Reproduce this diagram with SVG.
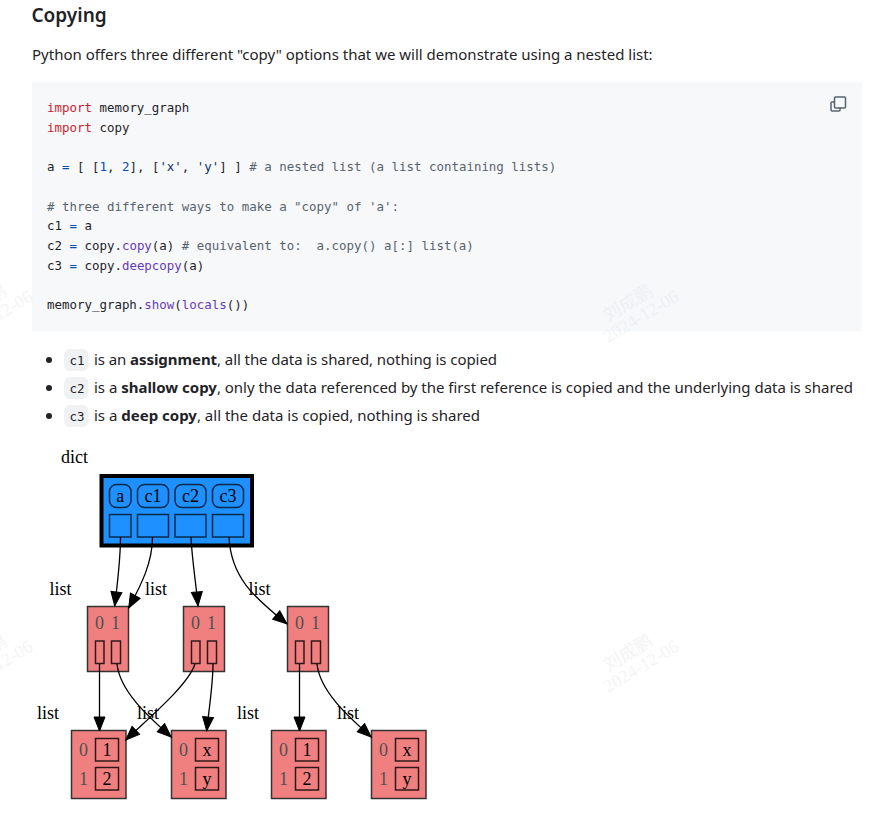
<svg xmlns="http://www.w3.org/2000/svg" width="887" height="837" viewBox="0 0 887 837">
<style>
.h{font:600 19px "Noto Sans",sans-serif;fill:#1f2328}
.p{font:15px "Noto Sans",sans-serif;fill:#1f2328}
.p tspan.b{font-weight:700}
.p tspan.c{font:12.5px "DejaVu Sans Mono",monospace}
.m{font:12.45px "DejaVu Sans Mono",monospace;fill:#1f2328;white-space:pre}
.k{fill:#cf222e}.o{fill:#0550ae}.s{fill:#0a3069}.g{fill:#59636e}.f{fill:#6639ba}
.t{font:18px "Liberation Serif",serif;fill:#000}
.tm{text-anchor:middle}
.i{font:18px "Liberation Serif",serif;fill:#505050;text-anchor:middle}
.w{font:18px "Liberation Serif","Noto Sans CJK SC",serif;fill:#e6e8ea;opacity:.45}
.bl{fill:#1e90ff;stroke:#0a2a48;stroke-width:1.5}
.rd{fill:#f08080;stroke:#333;stroke-width:1.5}
.cell{fill:none;stroke:#301818;stroke-width:1.5}
.e{fill:none;stroke:#000;stroke-width:1.3;marker-end:url(#ah)}
</style>
<defs>
<marker id="ah" markerUnits="userSpaceOnUse" markerWidth="18" markerHeight="14" refX="15" refY="6.5" orient="auto"><path d="M1 1L15 6.5L1 12Z" fill="#000" stroke="#000"/></marker>
<g id="wm"><text class="w" transform="translate(608 322) rotate(-31)">刘成鹏</text><text class="w" transform="translate(608 343) rotate(-31)">2024-12-06</text></g>
</defs>
<rect width="887" height="837" fill="#fff"/>
<g id="page">
<text class="h" x="31.5" y="22">Copying</text>
<text class="p" x="32" y="60">Python offers three different "copy" options that we will demonstrate using a nested list:</text>
<rect x="32" y="82" width="830" height="249" fill="#f6f8fa"/>
<text class="m" x="47" y="111.5"><tspan class="k">import</tspan> memory_graph</text>
<text class="m" x="47" y="131.5"><tspan class="k">import</tspan> copy</text>
<text class="m" x="47" y="170.5">a <tspan class="o">=</tspan> [ [<tspan class="o">1</tspan>, <tspan class="o">2</tspan>], [<tspan class="s">'x'</tspan>, <tspan class="s">'y'</tspan>] ] <tspan class="g"># a nested list (a list containing lists)</tspan></text>
<text class="m g" x="47" y="210.5"># three different ways to make a "copy" of 'a':</text>
<text class="m" x="47" y="229.5">c1 <tspan class="o">=</tspan> a</text>
<text class="m" x="47" y="249.5">c2 <tspan class="o">=</tspan> copy.<tspan class="f">copy</tspan>(a) <tspan class="g"># equivalent to:  a.copy() a[:] list(a)</tspan></text>
<text class="m" x="47" y="269.5">c3 <tspan class="o">=</tspan> copy.<tspan class="f">deepcopy</tspan>(a)</text>
<text class="m" x="47" y="308.5">memory_graph.<tspan class="f">show</tspan>(<tspan class="f">locals</tspan>())</text>
<g fill="#1f2328"><circle cx="49" cy="360" r="3"/><circle cx="49" cy="388" r="3"/><circle cx="49" cy="416" r="3"/></g>
<g fill="#eff1f3"><rect x="64" y="349" width="24.5" height="22" rx="6"/><rect x="64" y="377" width="24.5" height="22" rx="6"/><rect x="64" y="405" width="24.5" height="22" rx="6"/></g>
<text class="p" x="69.5" y="365"><tspan class="c">c1</tspan></text>
<text class="p" x="69.5" y="393"><tspan class="c">c2</tspan></text>
<text class="p" x="69.5" y="421"><tspan class="c">c3</tspan></text>
<text class="p" x="94" y="365" textLength="403">is an <tspan class="b">assignment</tspan>, all the data is shared, nothing is copied</text>
<text class="p" x="94" y="393" textLength="759">is a <tspan class="b">shallow copy</tspan>, only the data referenced by the first reference is copied and the underlying data is shared</text>
<text class="p" x="94" y="421" textLength="386">is a <tspan class="b">deep copy</tspan>, all the data is copied, nothing is shared</text>
<g fill="none" stroke="#59636e" stroke-width="1.5" stroke-linejoin="round"><path d="M834.5 102H832a1 1 0 0 0-1 1V110a1 1 0 0 0 1 1H839a1 1 0 0 0 1-1V107.5"/><rect x="834.5" y="97" width="11" height="11" rx="1"/></g>
</g>
<use href="#wm"/><use href="#wm" y="350"/><use href="#wm" x="-646"/><use href="#wm" x="-646" y="350"/>
<g id="node-dict">
<text class="t" x="61" y="463">dict</text>
<rect x="101.5" y="476" width="150.5" height="69.5" fill="#1e90ff" stroke="#000" stroke-width="4"/>
<rect class="bl" x="109.5" y="484.5" width="21.5" height="23" rx="7"/><rect class="bl" x="137.5" y="484.5" width="31" height="23" rx="7"/><rect class="bl" x="175" y="484.5" width="31" height="23" rx="7"/><rect class="bl" x="212.5" y="484.5" width="31" height="23" rx="7"/>
<text class="t tm" x="120.3" y="502">a</text><text class="t tm" x="153" y="502">c1</text><text class="t tm" x="190.5" y="502">c2</text><text class="t tm" x="228" y="502">c3</text>
<rect class="bl" x="109.5" y="514.5" width="21.5" height="22.5"/><rect class="bl" x="137.5" y="514.5" width="31" height="22.5"/><rect class="bl" x="175" y="514.5" width="31" height="22.5"/><rect class="bl" x="212.5" y="514.5" width="31" height="22.5"/>
</g>
<g id="node-list-a">
<text class="t" x="49.5" y="595">list</text>
<rect class="rd" x="87.5" y="606.5" width="41" height="65"/>
<text class="i" x="99.5" y="629">0</text><text class="i" x="115.5" y="629">1</text>
<rect class="cell" x="95.5" y="641" width="8.5" height="22.5"/><rect class="cell" x="111.5" y="641" width="9" height="22.5"/>
</g>
<g id="node-list-c2">
<text class="t" x="145" y="595">list</text>
<rect class="rd" x="183.5" y="606.5" width="41" height="65"/>
<text class="i" x="195.5" y="629">0</text><text class="i" x="211.5" y="629">1</text>
<rect class="cell" x="191.5" y="641" width="8.5" height="22.5"/><rect class="cell" x="207.5" y="641" width="9" height="22.5"/>
</g>
<g id="node-list-c3">
<text class="t" x="248.5" y="595">list</text>
<rect class="rd" x="287.5" y="606.5" width="41" height="65"/>
<text class="i" x="299.5" y="629">0</text><text class="i" x="315.5" y="629">1</text>
<rect class="cell" x="295.5" y="641" width="8.5" height="22.5"/><rect class="cell" x="311.5" y="641" width="9" height="22.5"/>
</g>
<g id="node-nums-1">
<text class="t" x="37" y="719">list</text>
<rect class="rd" x="71.5" y="730.5" width="54.5" height="68"/>
<text class="i" x="83.5" y="756">0</text><text class="i" x="83.5" y="785">1</text>
<rect class="cell" x="95.5" y="738.5" width="23" height="22.5"/><rect class="cell" x="95.5" y="767.5" width="23" height="22.5"/>
<text class="t tm" x="107" y="756">1</text><text class="t tm" x="107" y="785">2</text>
</g>
<g id="node-chars-1">
<text class="t" x="137" y="719">list</text>
<rect class="rd" x="171.5" y="730.5" width="54.5" height="68"/>
<text class="i" x="183.5" y="756">0</text><text class="i" x="183.5" y="785">1</text>
<rect class="cell" x="195.5" y="738.5" width="23" height="22.5"/><rect class="cell" x="195.5" y="767.5" width="23" height="22.5"/>
<text class="t tm" x="207" y="756">x</text><text class="t tm" x="207" y="785">y</text>
</g>
<g id="node-nums-2">
<text class="t" x="237" y="719">list</text>
<rect class="rd" x="271.5" y="730.5" width="54.5" height="68"/>
<text class="i" x="283.5" y="756">0</text><text class="i" x="283.5" y="785">1</text>
<rect class="cell" x="295.5" y="738.5" width="23" height="22.5"/><rect class="cell" x="295.5" y="767.5" width="23" height="22.5"/>
<text class="t tm" x="307" y="756">1</text><text class="t tm" x="307" y="785">2</text>
</g>
<g id="node-chars-2">
<text class="t" x="337" y="719">list</text>
<rect class="rd" x="371.5" y="730.5" width="54.5" height="68"/>
<text class="i" x="383.5" y="756">0</text><text class="i" x="383.5" y="785">1</text>
<rect class="cell" x="395.5" y="738.5" width="23" height="22.5"/><rect class="cell" x="395.5" y="767.5" width="23" height="22.5"/>
<text class="t tm" x="407" y="756">x</text><text class="t tm" x="407" y="785">y</text>
</g>
<g id="connectors">
<path class="e" d="M120.5 537C120.5 560 117.5 583 114.7 606"/>
<path class="e" d="M152.5 537C152.5 563 141 585 128.7 608"/>
<path class="e" d="M191 537C192 560 196 583 198 606"/>
<path class="e" d="M229 537C231 580 258 600 287 624"/>
<path class="e" d="M99.5 664V731"/>
<path class="e" d="M117 664C120 692 150 718 171.3 737"/>
<path class="e" d="M195 664C188 685 152 715 125.7 740"/>
<path class="e" d="M213 664C213 685 209 708 206.7 731"/>
<path class="e" d="M299.5 664V731"/>
<path class="e" d="M317 664C320 692 350 718 371.3 737"/>
</g>
</svg>
